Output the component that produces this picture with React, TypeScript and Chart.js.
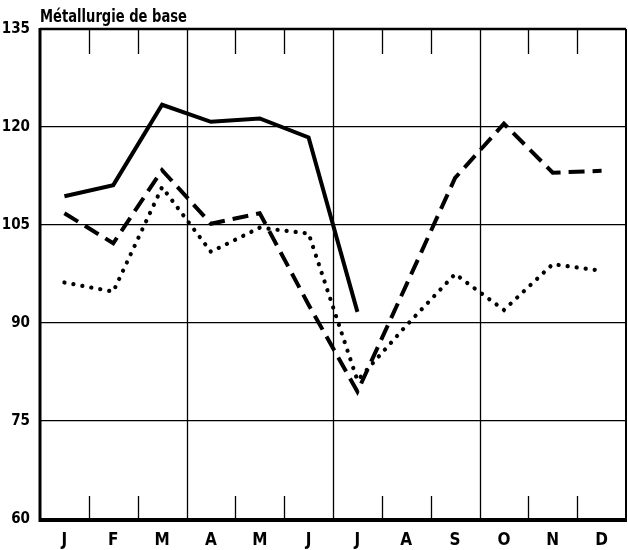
import { useEffect, useRef } from 'react';
import { Chart, registerables } from 'chart.js';

Chart.register(...registerables);

const FONT = "'Liberation Sans Narrow', 'DejaVu Sans Condensed', 'Arial Narrow', sans-serif";

const title = 'Métallurgie de base';
const months = ['J', 'F', 'M', 'A', 'M', 'J', 'J', 'A', 'S', 'O', 'N', 'D'];
const solidSeries = [109.4, 111.1, 123.4, 120.8, 121.3, 118.4, 91.7, null, null, null, null, null];
const dashedSeries = [106.8, 102.2, 113.4, 105.2, 106.8, 92.8, 79.5, 95.8, 112.2, 120.5, 113.0, 113.3];
const dottedSeries = [96.2, 94.8, 110.8, 100.9, 104.6, 103.7, 81.2, 89.6, 97.5, 92.0, 99.0, 98.0];
const yMin = 60;
const yMax = 135;
const yStep = 15;

const framePlugin = {
  id: 'frame',
  beforeDatasetsDraw(chart: any) {
    const { ctx, chartArea } = chart;
    const { left, right, top, bottom } = chartArea;
    const n = chart.scales.x.ticks.length;
    const step = (right - left) / n;
    ctx.save();
    ctx.strokeStyle = '#000';
    ctx.lineCap = 'butt';
    for (let i = 1; i < n; i++) {
      const bx = Math.round(left + i * step) + 0.5;
      ctx.lineWidth = 1.3;
      ctx.beginPath();
      if (i % 3 === 0) {
        ctx.moveTo(bx, top);
        ctx.lineTo(bx, bottom);
      } else {
        ctx.moveTo(bx, top);
        ctx.lineTo(bx, top + 25);
        ctx.moveTo(bx, bottom - 23);
        ctx.lineTo(bx, bottom);
      }
      ctx.stroke();
    }
    ctx.lineWidth = 2.5;
    ctx.beginPath();
    ctx.moveTo(left, top);
    ctx.lineTo(right, top);
    ctx.stroke();
    ctx.lineWidth = 2;
    ctx.beginPath();
    ctx.moveTo(right, top);
    ctx.lineTo(right, bottom);
    ctx.stroke();
    ctx.lineWidth = 3;
    ctx.beginPath();
    ctx.moveTo(left, top - 1);
    ctx.lineTo(left, bottom + 1.5);
    ctx.lineTo(right + 1, bottom + 1.5);
    ctx.stroke();
    ctx.restore();
  },
  afterDraw(chart: any) {
    const { ctx, chartArea } = chart;
    ctx.save();
    ctx.fillStyle = '#000';
    ctx.font = `bold 18px ${FONT}`;
    ctx.textAlign = 'left';
    ctx.textBaseline = 'alphabetic';
    ctx.translate(chartArea.left, chartArea.top - 7);
    ctx.scale(0.81, 1);
    ctx.fillText(title, 0, 0);
    ctx.restore();
  },
};

export default function App() {
  const ref = useRef<HTMLCanvasElement | null>(null);
  useEffect(() => {
    if (!ref.current) return;
    const chart = new Chart(ref.current, {
      type: 'line',
      data: {
        labels: months,
        datasets: [
          {
            label: 'dotted',
            data: dottedSeries,
            borderColor: '#000',
            borderWidth: 4.2,
            borderDash: [0.1, 9],
            borderCapStyle: 'round',
            pointRadius: 0,
            tension: 0,
            fill: false,
          },
          {
            label: 'dashed',
            data: dashedSeries,
            borderColor: '#000',
            borderWidth: 4,
            borderDash: [16, 8],
            borderCapStyle: 'butt',
            borderJoinStyle: 'miter',
            pointRadius: 0,
            tension: 0,
            fill: false,
          },
          {
            label: 'solid',
            data: solidSeries,
            borderColor: '#000',
            borderWidth: 4,
            pointRadius: 0,
            tension: 0,
            fill: false,
            spanGaps: false,
          },
        ],
      },
      options: {
        responsive: false,
        animation: false,
        layout: { padding: { top: 29, right: 2, left: 0, bottom: 0 } },
        plugins: {
          legend: { display: false },
          tooltip: { enabled: false },
          title: { display: false },
        },
        scales: {
          x: {
            offset: true,
            grid: { display: false },
            border: { display: false },
            ticks: {
              color: '#000',
              font: { family: FONT, size: 17, weight: 'bold' },
              padding: 3,
              maxRotation: 0,
              autoSkip: false,
            },
            afterFit: (s: any) => {
              s.height = 31;
            },
          },
          y: {
            min: yMin,
            max: yMax,
            border: { display: false },
            grid: {
              color: '#000',
              lineWidth: 1.2,
              drawTicks: false,
            },
            ticks: {
              stepSize: yStep,
              color: '#000',
              font: { family: FONT, size: 15, weight: 'bold' },
              padding: 10,
            },
            afterFit: (s: any) => {
              s.width = 40;
            },
          },
        },
      },
      plugins: [framePlugin],
    } as any);
    return () => chart.destroy();
  }, []);
  return (
    <div style={{ position: 'absolute', left: 0, top: 0, width: 628, height: 550, background: '#fff' }}>
      <canvas ref={ref} width={628} height={550} />
    </div>
  );
}
